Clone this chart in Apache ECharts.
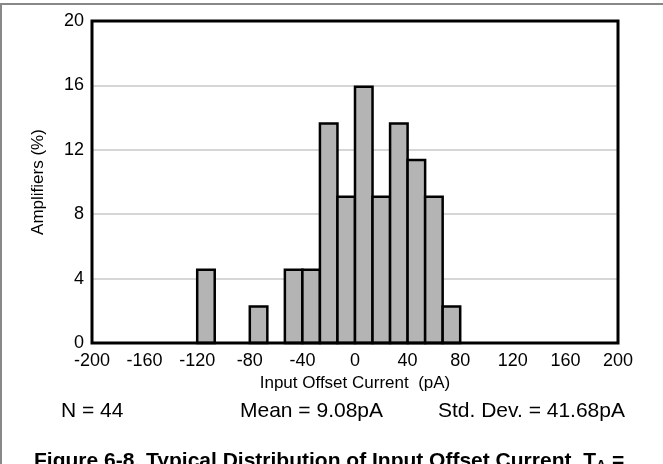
<!DOCTYPE html>
<html>
<head>
<meta charset="utf-8">
<script src="https://cdn.jsdelivr.net/npm/echarts@6/dist/echarts.min.js"></script>
<style>
html,body{margin:0;padding:0;background:#fff;}
#chart{width:663px;height:464px;}
</style>
</head>
<body>
<div id="chart"></div>
<script>
// Histogram bins (pA) and amplifier percentages
var binStart = [-120, -80, -53.33, -40, -26.67, -13.33, 0, 13.33, 26.67, 40, 53.33, 66.67];
var binWidth = 13.33;
var percent = [4.55, 2.27, 4.55, 4.55, 13.64, 9.09, 15.91, 9.09, 13.64, 11.36, 9.09, 2.27];
var xTicks = [-200, -160, -120, -80, -40, 0, 40, 80, 120, 160, 200];
var yTicks = [0, 4, 8, 12, 16, 20];
var statN = 'N = 44';
var statMean = 'Mean = 9.08pA';
var statStd = 'Std. Dev. = 41.68pA';

var FONT = 'Liberation Sans, Arial, sans-serif';
var data = binStart.map(function (s, i) { return [s, s + binWidth, percent[i]]; });

var chart = echarts.init(document.getElementById('chart'), null, {renderer: 'canvas'});
chart.setOption({
  backgroundColor: '#fff',
  animation: false,
  grid: {left: 92, top: 21, width: 526, height: 322, show: true, borderColor: '#000', borderWidth: 3, backgroundColor: 'transparent', z: 3},
  xAxis: {
    type: 'value', min: xTicks[0], max: xTicks[xTicks.length - 1], interval: 40,
    name: 'Input Offset Current  (pA)', nameLocation: 'middle', nameGap: 28,
    nameTextStyle: {color: '#000', fontSize: 17, fontFamily: FONT},
    axisLine: {show: false}, axisTick: {show: false}, splitLine: {show: false},
    axisLabel: {color: '#000', fontSize: 18, fontFamily: FONT, margin: 9}
  },
  yAxis: {
    type: 'value', min: yTicks[0], max: yTicks[yTicks.length - 1], interval: 4,
    name: 'Amplifiers (%)', nameLocation: 'middle', nameGap: 45, nameRotate: 90,
    nameTextStyle: {color: '#000', fontSize: 17, fontFamily: FONT},
    axisLine: {show: false}, axisTick: {show: false},
    splitLine: {show: true, lineStyle: {color: '#c8c8c8', width: 1.5}},
    axisLabel: {color: '#000', fontSize: 18, fontFamily: FONT, margin: 8}
  },
  series: [{
    type: 'custom',
    data: data,
    encode: {x: [0, 1], y: 2},
    z: 2,
    renderItem: function (params, api) {
      var p0 = api.coord([api.value(0), api.value(2)]);
      var p1 = api.coord([api.value(1), 0]);
      return {
        type: 'rect',
        shape: {x: p0[0], y: p0[1], width: p1[0] - p0[0], height: p1[1] - p0[1]},
        style: {fill: '#b4b4b4', stroke: '#000', lineWidth: 2.5}
      };
    }
  }],
  graphic: [
    {type: 'line', shape: {x1: 0, y1: 4, x2: 663, y2: 4}, style: {stroke: '#888', lineWidth: 2}},
    {type: 'line', shape: {x1: 1, y1: 4, x2: 1, y2: 464}, style: {stroke: '#888', lineWidth: 2}},
    {type: 'text', left: 61, top: 401, style: {text: statN, fontSize: 21, fontFamily: FONT, fill: '#000'}},
    {type: 'text', left: 240, top: 401, style: {text: statMean, fontSize: 21, fontFamily: FONT, fill: '#000'}},
    {type: 'text', left: 438, top: 401, style: {text: statStd, fontSize: 21, fontFamily: FONT, fill: '#000'}},
    {type: 'text', left: 34, top: 451, style: {
      text: 'Figure 6-8. Typical Distribution of Input Offset Current, T{sub|A} =',
      fontSize: 21, fontWeight: 'bold', fontFamily: FONT, fill: '#000',
      rich: {sub: {fontSize: 14, fontWeight: 'bold', fontFamily: FONT, verticalAlign: 'bottom', padding: [10, 0, 0, 0]}}
    }}
  ]
});
</script>
</body>
</html>
